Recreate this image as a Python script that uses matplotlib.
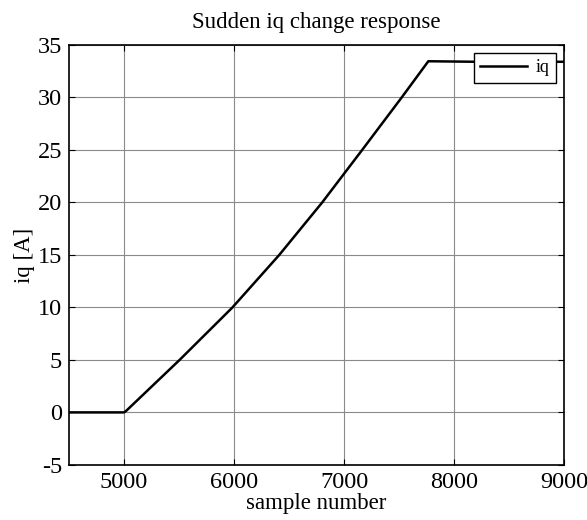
import matplotlib.pyplot as plt

# iq response
sample = [4500, 4800, 5000, 5020, 5505, 5985, 6410, 6800, 7163, 7522, 7764, 8200, 9000]
iq = [0.0, 0.0, 0.0, 0.15, 5.0, 10.0, 15.0, 20.0, 25.0, 30.0, 33.45, 33.4, 33.4]

x_ticks = [5000, 6000, 7000, 8000, 9000]
y_ticks = [-5, 0, 5, 10, 15, 20, 25, 30, 35]

plt.rcParams["font.family"] = ["Liberation Serif", "DejaVu Serif"]
plt.rcParams["axes.unicode_minus"] = False

fig = plt.figure(figsize=(5.87, 5.2), dpi=100)
ax = fig.add_axes([0.1175, 0.106, 0.844, 0.8075])

ax.plot(sample, iq, color="black", linewidth=1.8, label="iq")

ax.set_xlim(4500, 9000)
ax.set_ylim(-5, 35)
ax.set_xticks(x_ticks)
ax.set_yticks(y_ticks)
ax.grid(True, color="#8a8a8a", linewidth=0.8)
ax.tick_params(direction="in", top=True, right=True, labelsize=17.5, length=4, pad=5)
for s in ax.spines.values():
    s.set_linewidth(1.2)

ax.set_title("Sudden iq change response", fontsize=16.5, pad=12)
ax.set_xlabel("sample number", fontsize=16.5, labelpad=0)
ax.set_ylabel("iq [A]", fontsize=16.5, labelpad=2)

leg = ax.legend(loc="upper right", fontsize=13, fancybox=False, framealpha=1,
                edgecolor="black", handlelength=2.6, handletextpad=0.5,
                borderaxespad=0.45, borderpad=0.35)
leg.get_frame().set_linewidth(1.0)

fig.savefig("out.png", dpi=100)
